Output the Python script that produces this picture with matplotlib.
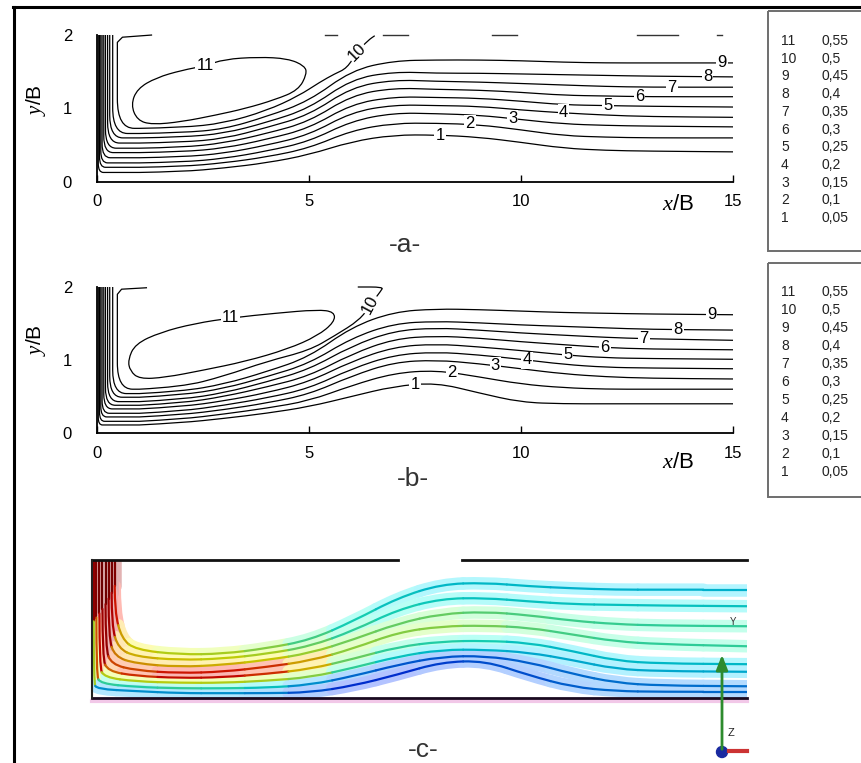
import numpy as np
import matplotlib
matplotlib.use("Agg")
import matplotlib.pyplot as plt
from matplotlib.path import Path
from matplotlib.patches import PathPatch, Rectangle, Circle

plt.rcParams['font.family'] = ['Liberation Sans', 'DejaVu Sans']
plt.rcParams['mathtext.fontset'] = 'custom'
plt.rcParams['mathtext.it'] = 'Liberation Serif:italic'
plt.rcParams['mathtext.rm'] = 'Liberation Serif'

W, H = 861, 763

stations = [1, 2, 3, 4, 5, 6, 7, 8, 9, 10, 11, 12, 13, 15]

# ---------------- panel a ----------------
a_inlet = [0.03, 0.06, 0.09, 0.12, 0.16, 0.20, 0.25, 0.30, 0.37]
a_turn = [0.12, 0.14, 0.16, 0.19, 0.22, 0.25, 0.28, 0.31, 0.35]
a_psi = [
    [0.13, 0.14, 0.19, 0.26, 0.37, 0.55, 0.64, 0.64, 0.61, 0.54, 0.46, 0.43, 0.42, 0.41],
    [0.20, 0.21, 0.26, 0.34, 0.46, 0.70, 0.80, 0.80, 0.78, 0.71, 0.63, 0.61, 0.60, 0.60],
    [0.26, 0.27, 0.32, 0.42, 0.55, 0.83, 0.94, 0.93, 0.91, 0.85, 0.79, 0.77, 0.76, 0.75],
    [0.33, 0.34, 0.39, 0.50, 0.64, 0.95, 1.05, 1.04, 1.03, 0.98, 0.94, 0.91, 0.89, 0.88],
    [0.40, 0.41, 0.46, 0.58, 0.73, 1.06, 1.16, 1.15, 1.14, 1.10, 1.05, 1.04, 1.03, 1.02],
    [0.46, 0.47, 0.53, 0.66, 0.82, 1.18, 1.28, 1.26, 1.25, 1.22, 1.18, 1.17, 1.16, 1.16],
    [0.53, 0.54, 0.59, 0.74, 0.91, 1.29, 1.39, 1.37, 1.36, 1.34, 1.32, 1.30, 1.29, 1.29],
    [0.60, 0.61, 0.66, 0.81, 1.00, 1.40, 1.50, 1.48, 1.48, 1.47, 1.46, 1.45, 1.44, 1.43],
    [0.66, 0.67, 0.72, 0.89, 1.10, 1.52, 1.65, 1.66, 1.66, 1.65, 1.63, 1.62, 1.62, 1.62],
]
a_head10_x = [1.3, 0.6, 0.48]
a_head10_y = [2.0, 1.97, 1.9]
a_turn10 = 0.40
a_psi10_x = [1, 2, 3, 4, 4.75, 5.26, 5.6, 5.9, 6.13, 6.4, 6.55]
a_psi10_y = [0.73, 0.74, 0.80, 0.97, 1.17, 1.36, 1.47, 1.55, 1.77, 1.93, 1.99]
a_eddy_x = [0.80, 0.95, 1.4, 2.0, 2.55, 3.0, 3.8, 4.5, 4.9, 4.95, 4.75, 4.2, 3.5, 2.8, 2.0, 1.3, 0.95]
a_eddy_y = [1.05, 1.27, 1.42, 1.52, 1.58, 1.67, 1.70, 1.68, 1.58, 1.47, 1.25, 1.12, 1.00, 0.91, 0.82, 0.78, 0.84]
a_top_x0 = [5.38, 6.75, 9.32, 12.74, 14.62]
a_top_x1 = [5.66, 7.34, 9.91, 13.70, 14.74]
a_lab = ['11', '10', '1', '2', '3', '4', '5', '6', '7', '8', '9']
a_lab_x = [2.55, 6.13, 8.09, 8.8, 9.8, 11.0, 12.05, 12.8, 13.56, 14.4, 14.74]
a_lab_y = [1.58, 1.77, 0.63, 0.79, 0.87, 0.94, 1.04, 1.16, 1.29, 1.43, 1.62]
a_lab_rot = [0, 45, 0, 0, 0, 0, 0, 0, 0, 0, 0]

# ---------------- panel b ----------------
b_inlet = [0.03, 0.06, 0.09, 0.12, 0.16, 0.20, 0.25, 0.30, 0.37]
b_turn = [0.10, 0.12, 0.14, 0.17, 0.20, 0.23, 0.26, 0.29, 0.32]
b_psi = [
    [0.11, 0.14, 0.20, 0.27, 0.36, 0.50, 0.64, 0.69, 0.55, 0.42, 0.40, 0.40, 0.40, 0.40],
    [0.16, 0.19, 0.26, 0.34, 0.44, 0.65, 0.82, 0.86, 0.77, 0.67, 0.62, 0.60, 0.60, 0.60],
    [0.22, 0.25, 0.32, 0.41, 0.53, 0.78, 0.97, 1.00, 0.95, 0.88, 0.81, 0.77, 0.75, 0.74],
    [0.27, 0.30, 0.38, 0.48, 0.61, 0.88, 1.07, 1.11, 1.07, 1.01, 0.94, 0.90, 0.89, 0.88],
    [0.33, 0.36, 0.44, 0.55, 0.70, 0.98, 1.18, 1.22, 1.18, 1.13, 1.07, 1.03, 1.02, 1.01],
    [0.38, 0.41, 0.50, 0.63, 0.78, 1.08, 1.29, 1.33, 1.30, 1.25, 1.21, 1.17, 1.15, 1.14],
    [0.43, 0.46, 0.55, 0.70, 0.87, 1.19, 1.40, 1.44, 1.41, 1.37, 1.34, 1.31, 1.29, 1.27],
    [0.49, 0.52, 0.61, 0.77, 0.95, 1.30, 1.50, 1.53, 1.51, 1.48, 1.46, 1.44, 1.42, 1.41],
    [0.54, 0.57, 0.67, 0.84, 1.04, 1.45, 1.66, 1.70, 1.69, 1.67, 1.65, 1.64, 1.63, 1.62],
]
b_head10_x = [1.18, 0.58, 0.48]
b_head10_y = [1.99, 1.97, 1.9]
b_turn10 = 0.36
b_psi10_x = [1, 2, 3, 4, 5, 5.6, 6.2, 6.44, 6.7, 6.75, 6.15]
b_psi10_y = [0.60, 0.63, 0.78, 0.98, 1.13, 1.33, 1.55, 1.75, 1.95, 2.0, 2.0]
b_eddy_x = [0.73, 0.9, 1.5, 2.3, 3.2, 4.2, 5.2, 5.6, 5.6, 5.2, 4.5, 3.5, 2.5, 1.6, 1.0, 0.78]
b_eddy_y = [1.00, 1.22, 1.38, 1.50, 1.58, 1.64, 1.69, 1.66, 1.52, 1.33, 1.15, 0.98, 0.86, 0.76, 0.74, 0.85]
b_lab = ['11', '10', '1', '2', '3', '4', '5', '6', '7', '8', '9']
b_lab_x = [3.14, 6.44, 7.5, 8.37, 9.39, 10.14, 11.1, 11.98, 12.9, 13.7, 14.5]
b_lab_y = [1.58, 1.76, 0.67, 0.83, 0.92, 1.00, 1.07, 1.17, 1.29, 1.42, 1.62]
b_lab_rot = [0, 62, 0, 0, 0, 0, 0, 0, 0, 0, 0]

# legend tables
legend_ids = ['11', '10', '9', '8', '7', '6', '5', '4', '3', '2', '1']
legend_vals = ['0,55', '0,5', '0,45', '0,4', '0,35', '0,3', '0,25', '0,2', '0,15', '0,1', '0,05']

# ---------------- panel c (coloured streamlines) ----------------
c_inlet = [0.52, 0.45, 0.38, 0.31, 0.24, 0.17, 0.10, 0.04]
c_bend_y = [1.25, 1.05, 0.88, 0.72, 0.58, 0.45, 0.33, 0.22]
c_corner_x = [0.68, 0.60, 0.52, 0.44, 0.36, 0.28, 0.19, 0.11]
c_corner_y = [0.86, 0.72, 0.60, 0.49, 0.39, 0.30, 0.21, 0.13]
c_psi = [
    [0.70, 0.63, 0.64, 0.72, 0.84, 1.12, 1.45, 1.65, 1.67, 1.62, 1.59, 1.57, 1.57, 1.57],
    [0.60, 0.55, 0.57, 0.64, 0.75, 0.98, 1.28, 1.44, 1.45, 1.40, 1.36, 1.35, 1.34, 1.33],
    [0.50, 0.45, 0.48, 0.55, 0.65, 0.85, 1.08, 1.22, 1.25, 1.20, 1.12, 1.07, 1.05, 1.04],
    [0.40, 0.36, 0.38, 0.45, 0.54, 0.72, 0.95, 1.04, 1.05, 1.02, 0.92, 0.82, 0.78, 0.75],
    [0.32, 0.29, 0.30, 0.35, 0.42, 0.57, 0.74, 0.82, 0.83, 0.80, 0.68, 0.54, 0.50, 0.49],
    [0.24, 0.22, 0.22, 0.25, 0.30, 0.44, 0.60, 0.70, 0.70, 0.66, 0.55, 0.42, 0.39, 0.38],
    [0.16, 0.14, 0.14, 0.15, 0.19, 0.32, 0.48, 0.60, 0.61, 0.52, 0.35, 0.22, 0.18, 0.17],
    [0.10, 0.07, 0.07, 0.07, 0.08, 0.18, 0.34, 0.52, 0.54, 0.33, 0.16, 0.10, 0.09, 0.09],
]
# normalised speed along each line: top, bend, corner, then the stations
c_speed = [
    [0.97, 0.88, 0.70, 0.65, 0.62, 0.60, 0.55, 0.45, 0.38, 0.36, 0.35, 0.35, 0.35, 0.34, 0.34, 0.34, 0.34],
    [0.98, 0.92, 0.72, 0.68, 0.66, 0.64, 0.60, 0.50, 0.42, 0.38, 0.37, 0.36, 0.36, 0.36, 0.36, 0.36, 0.36],
    [0.98, 0.94, 0.75, 0.72, 0.70, 0.68, 0.65, 0.58, 0.52, 0.50, 0.50, 0.48, 0.46, 0.44, 0.43, 0.42, 0.42],
    [0.99, 0.95, 0.82, 0.82, 0.88, 0.88, 0.85, 0.70, 0.56, 0.55, 0.55, 0.52, 0.48, 0.45, 0.43, 0.42, 0.42],
    [0.99, 0.94, 0.78, 0.85, 0.90, 0.90, 0.85, 0.68, 0.50, 0.42, 0.40, 0.38, 0.36, 0.35, 0.35, 0.35, 0.35],
    [0.98, 0.90, 0.62, 0.62, 0.63, 0.62, 0.60, 0.55, 0.42, 0.36, 0.35, 0.34, 0.33, 0.33, 0.33, 0.33, 0.33],
    [0.97, 0.80, 0.42, 0.40, 0.42, 0.40, 0.36, 0.30, 0.25, 0.23, 0.23, 0.23, 0.24, 0.25, 0.26, 0.26, 0.26],
    [0.95, 0.60, 0.30, 0.30, 0.30, 0.30, 0.28, 0.22, 0.18, 0.18, 0.20, 0.22, 0.22, 0.24, 0.25, 0.25, 0.25],
]
c_top_x0 = [0.0, 8.47]
c_top_x1 = [7.0, 15.0]


def mid(p, q):
    return ((p[0] + q[0]) / 2, (p[1] + q[1]) / 2)


def smooth_tail(pts):
    # quadratic B-spline through the read-off points (Path CURVE3 segments)
    verts, codes = [], []
    for i in range(1, len(pts) - 1):
        verts += [pts[i], mid(pts[i], pts[i + 1])]
        codes += [Path.CURVE3, Path.CURVE3]
    verts.append(pts[-1])
    codes.append(Path.LINETO)
    return verts, codes


def streamline(ax, hx, hy, r, xs, ys):
    # vertical jet part, rounded corner, then the read-off stations
    x0 = hx[-1]
    h = ys[0]
    verts = list(zip(hx, hy)) + [(x0, h + r), (x0, h), (x0 + r, h), (xs[0], ys[0])]
    codes = ([Path.MOVETO] + [Path.LINETO] * (len(hx) - 1)
             + [Path.LINETO, Path.CURVE3, Path.CURVE3, Path.LINETO])
    tv, tc = smooth_tail(list(zip(xs, ys)))
    ax.add_patch(PathPatch(Path(verts + tv, codes + tc), fill=False, lw=0.9,
                           ec='black', clip_on=False, joinstyle='round'))


def closed_loop(ax, ex, ey):
    pts = list(zip(ex, ey))
    n = len(pts)
    mids = [mid(pts[i], pts[(i + 1) % n]) for i in range(n)]
    verts = [mids[-1]]
    codes = [Path.MOVETO]
    for i in range(n):
        verts += [pts[i], mids[i]]
        codes += [Path.CURVE3, Path.CURVE3]
    ax.add_patch(PathPatch(Path(verts, codes), fill=False, lw=0.9, ec='black'))


def contour_panel(ax, inlet, turn, psi, h10x, h10y, t10, p10x, p10y,
                  ex, ey, labs, lx, ly, lrot):
    ax.set_xlim(0, 15)
    ax.set_ylim(0, 2)
    for xi, r, row in zip(inlet, turn, psi):
        streamline(ax, [xi], [2.0], r, stations, row)
    streamline(ax, h10x, h10y, t10, p10x, p10y)
    closed_loop(ax, ex, ey)
    for s, x, y, rot in zip(labs, lx, ly, lrot):
        ax.text(x, y, s, ha='center', va='center', fontsize=12, rotation=rot,
                bbox=dict(boxstyle='square,pad=0.06', fc='white', ec='none'))
    for side in ['top', 'right']:
        ax.spines[side].set_visible(False)
    ax.spines['bottom'].set_linewidth(1.3)
    ax.spines['left'].set_linewidth(1.3)
    ax.set_xticks([0, 5, 10, 15])
    ax.set_yticks([0, 1, 2])
    ax.tick_params(axis='x', direction='in', length=5, width=1, pad=9, labelsize=12)
    ax.tick_params(axis='y', length=0, pad=18, labelsize=12)


def coloured_streamline(ax, pts, speed, cmap, lw, pale):
    # smooth piecewise path, each piece coloured by the speed at its control point
    n = len(pts)
    pieces = [([pts[0], mid(pts[0], pts[1])], [Path.MOVETO, Path.LINETO], speed[0])]
    for i in range(1, n - 1):
        pieces.append(([mid(pts[i - 1], pts[i]), pts[i], mid(pts[i], pts[i + 1])],
                       [Path.MOVETO, Path.CURVE3, Path.CURVE3], speed[i]))
    pieces.append(([mid(pts[-2], pts[-1]), pts[-1]], [Path.MOVETO, Path.LINETO], speed[-1]))
    for verts, codes, s in pieces:
        rgb = np.array(cmap(s)[:3])
        col = 0.3 * rgb + 0.7 if pale else 0.8 * rgb
        ax.add_patch(PathPatch(Path(verts, codes), fill=False, lw=lw, ec=col,
                               capstyle='round', joinstyle='round'))


fig = plt.figure(figsize=(W / 100, H / 100), dpi=100)

ax_a = fig.add_axes([97 / W, 1 - 182 / H, 636 / W, 147 / H])
contour_panel(ax_a, a_inlet, a_turn, a_psi, a_head10_x, a_head10_y, a_turn10,
              a_psi10_x, a_psi10_y, a_eddy_x, a_eddy_y, a_lab, a_lab_x, a_lab_y, a_lab_rot)
for x0, x1 in zip(a_top_x0, a_top_x1):
    ax_a.plot([x0, x1], [2.0, 2.0], color='#333333', lw=1.0, clip_on=False)

ax_b = fig.add_axes([97 / W, 1 - 433 / H, 636 / W, 146 / H])
contour_panel(ax_b, b_inlet, b_turn, b_psi, b_head10_x, b_head10_y, b_turn10,
              b_psi10_x, b_psi10_y, b_eddy_x, b_eddy_y, b_lab, b_lab_x, b_lab_y, b_lab_rot)

# panel c
ax_c = fig.add_axes([92 / W, 1 - 698 / H, 655 / W, 138 / H])
ax_c.set_xlim(0, 15)
ax_c.set_ylim(0, 2)
ax_c.axis('off')
cmap = plt.get_cmap('jet')
c_lines = []
for xi, by, cx, cy, row in zip(c_inlet, c_bend_y, c_corner_x, c_corner_y, c_psi):
    c_lines.append(list(zip([xi, xi, cx] + stations, [2.0, by, cy] + row)))
for pts, sp in zip(c_lines, c_speed):
    coloured_streamline(ax_c, pts, sp, cmap, 9, True)
for pts, sp in zip(c_lines, c_speed):
    coloured_streamline(ax_c, pts, sp, cmap, 1.6, False)
for x0, x1 in zip(c_top_x0, c_top_x1):
    ax_c.plot([x0, x1], [2.0, 2.0], color='#111111', lw=2, clip_on=False)
ax_c.plot([0, 15], [-0.04, -0.04], color='#f2c8e8', lw=3, clip_on=False)
ax_c.plot([0, 15], [0, 0], color='#1a0a20', lw=2, clip_on=False)
ax_c.plot([0, 0], [0, 2], color='#222222', lw=1.5, clip_on=False)

# overlay in pixel coordinates for frame, legends and captions
ov = fig.add_axes([0, 0, 1, 1], zorder=5)
ov.set_xlim(0, W)
ov.set_ylim(H, 0)
ov.axis('off')
ov.patch.set_visible(False)
ov.plot([13, W + 5], [7, 7], color='black', lw=2.2)
ov.plot([14, 14], [7, H + 5], color='black', lw=2.2)

for top, height, y0, dy in [(11, 240, 41, 17.7), (263, 234, 292, 18.0)]:
    ov.add_patch(Rectangle((768, top), 120, height, fill=False, ec='#6e6e6e', lw=1.4))
    for i, (k, v) in enumerate(zip(legend_ids, legend_vals)):
        ov.text(781, y0 + i * dy, k, fontsize=10, va='center', ha='left', color='#222222')
        ov.text(821, y0 + i * dy, v, fontsize=10, va='center', ha='left', color='#222222')

for yc in [100, 340]:
    ov.text(36, yc, r'$\mathit{y}$/B', rotation=90, fontsize=15, ha='center', va='center')
for yc in [204, 462]:
    ov.text(678, yc, r'$\mathit{x}$/B', fontsize=16, ha='center', va='center')

for s, x, y in [('-a-', 405, 245), ('-b-', 413, 479), ('-c-', 423, 750)]:
    ov.text(x, y, s, fontsize=19, ha='center', va='center', color='#333333',
            family=['Liberation Sans Narrow', 'Liberation Sans', 'DejaVu Sans'])

# coordinate triad of panel c
ov.annotate('', xy=(722, 652), xytext=(722, 752),
            arrowprops=dict(arrowstyle='-|>,head_length=0.9,head_width=0.35',
                            color='#2e8b2e', lw=2))
ov.plot([729, 747], [751, 751], color='#cc3333', lw=3)
ov.add_patch(Circle((722, 752), 5.5, color='#1a2aa0'))
ov.text(731, 733, 'Z', fontsize=8, ha='center', va='center', color='#222222')
ov.text(733, 622, 'Y', fontsize=7, ha='center', va='center', color='#333333')

fig.savefig('out.png', dpi=100)
